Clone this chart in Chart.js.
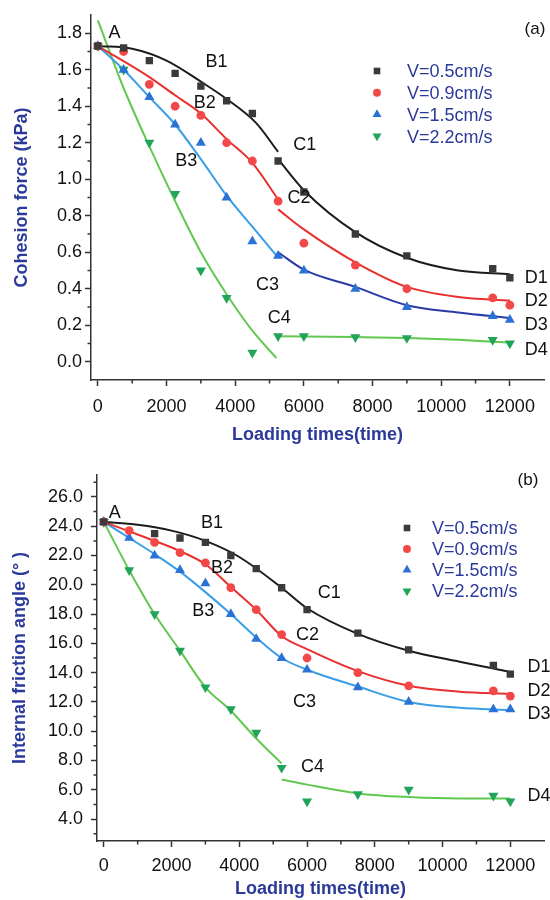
<!DOCTYPE html>
<html>
<head>
<meta charset="utf-8">
<script src="https://cdn.jsdelivr.net/npm/chart.js@4.4.0/dist/chart.umd.min.js"></script>
<style>
  body { margin: 0; background: #fff; }
  canvas { display: block; }
</style>
</head>
<body>
<canvas id="cohesion" width="550" height="450"></canvas>
<canvas id="friction" width="550" height="450"></canvas>
<script>
// measured loading times (x of every marker)
const loadTimes = [0, 750, 1500, 2250, 3000, 3750, 4500, 5250, 6000, 7500, 9000, 11500, 12000];
const speedLabels = ['V=0.5cm/s', 'V=0.9cm/s', 'V=1.5cm/s', 'V=2.2cm/s'];
const timeTicks = [0, 2000, 4000, 6000, 8000, 10000, 12000];
const cohesionTicks = [0, 0.2, 0.4, 0.6, 0.8, 1.0, 1.2, 1.4, 1.6, 1.8];
const frictionTicks = [4, 6, 8, 10, 12, 14, 16, 18, 20, 22, 24, 26];

// (a) cohesion force, kPa
const coh05 = [1.73, 1.72, 1.65, 1.58, 1.51, 1.43, 1.36, 1.10, 0.93, 0.70, 0.58, 0.51, 0.46];
const coh09 = [1.73, 1.70, 1.52, 1.40, 1.35, 1.20, 1.10, 0.88, 0.65, 0.53, 0.40, 0.35, 0.31];
const coh15 = [1.73, 1.60, 1.45, 1.30, 1.20, 0.90, 0.66, 0.58, 0.50, 0.40, 0.30, 0.25, 0.23];
const coh22 = [1.73, 1.60, 1.20, 0.92, 0.50, 0.35, 0.05, 0.14, 0.14, 0.135, 0.13, 0.12, 0.10];

// fitted curves (a), [time, value]
const cohFit05a = [[0, 1.73], [1000, 1.715], [2000, 1.65], [3000, 1.535], [3750, 1.44], [4600, 1.31], [5250, 1.15]];
const cohFit05b = [[5250, 1.11], [6000, 0.94], [7500, 0.71], [9000, 0.57], [10500, 0.50], [12000, 0.48]];
const cohFit09a = [[0, 1.73], [1500, 1.56], [2250, 1.46], [3000, 1.36], [3750, 1.22], [4500, 1.09], [5250, 0.89]];
const cohFit09b = [[5250, 0.835], [6000, 0.725], [7500, 0.545], [9000, 0.41], [10500, 0.355], [12000, 0.335]];
const cohFit15a = [[0, 1.73], [750, 1.60], [1500, 1.45], [2250, 1.30], [3000, 1.11], [3750, 0.91], [4500, 0.74], [5250, 0.57]];
const cohFit15b = [[5250, 0.60], [6000, 0.505], [7500, 0.41], [9000, 0.31], [10500, 0.27], [12000, 0.24]];
const cohFit22a = [[0, 1.87], [750, 1.50], [1500, 1.18], [2250, 0.88], [3000, 0.60], [3750, 0.37], [4500, 0.17], [5200, 0.02]];
const cohFit22b = [[5250, 0.14], [7500, 0.135], [9000, 0.13], [10500, 0.12], [12000, 0.105]];

// (b) internal friction angle, degrees
const fri05 = [24.3, null, 23.5, 23.2, 22.9, 22.0, 21.1, 19.8, 18.3, 16.7, 15.55, 14.5, 13.9];
const fri09 = [24.3, 23.7, 22.9, 22.2, 21.5, 19.8, 18.3, 16.6, 15.0, 14.0, 13.1, 12.75, 12.4];
const fri15 = [24.3, 23.2, 22.0, 21.0, 20.1, 18.0, 16.3, 15.0, 14.2, 13.0, 12.0, 11.5, 11.5];
const fri22 = [24.3, 21.0, 18.0, 15.5, 13.0, 11.5, 9.9, 7.5, 5.2, 5.7, 6.0, 5.6, 5.2];

const friFit05 = [[0, 24.3], [1000, 24.1], [2000, 23.7], [3000, 23.0], [4000, 21.9], [5250, 19.8], [6000, 18.4], [7500, 16.65], [9000, 15.5], [10500, 14.75], [12000, 14.05]];
const friFit09 = [[0, 24.3], [750, 23.65], [1500, 23.0], [2250, 22.3], [3000, 21.4], [3750, 19.85], [4500, 18.3], [5250, 16.5], [6000, 15.6], [7500, 14.1], [9000, 13.1], [10500, 12.7], [12000, 12.55]];
const friFit15 = [[0, 24.3], [750, 23.2], [1500, 22.1], [2250, 20.9], [3000, 19.5], [3750, 18.0], [4500, 16.4], [5250, 15.0], [6000, 14.2], [7500, 13.05], [9000, 12.0], [10500, 11.6], [12000, 11.45]];
const friFit22a = [[0, 24.3], [750, 21.0], [1500, 18.0], [2250, 15.5], [3000, 13.0], [3750, 11.4], [4500, 9.5], [5250, 7.8]];
const friFit22b = [[5250, 6.7], [6000, 6.35], [7500, 5.75], [9000, 5.5], [10500, 5.4], [12000, 5.4]];

// point labels [text, time, value]
const cohNotes = [['A', 486, 1.80], ['B1', 3457, 1.64], ['B2', 3114, 1.42], ['B3', 2571, 1.10],
  ['C1', 6029, 1.19], ['C2', 5857, 0.895], ['C3', 4943, 0.423], ['C4', 5286, 0.242],
  ['D1', 12770, 0.456], ['D2', 12770, 0.33], ['D3', 12770, 0.20], ['D4', 12770, 0.066]];
const friNotes = [['A', 322, 24.9], ['B1', 3197, 24.2], ['B2', 3490, 21.15], ['B3', 2933, 18.2],
  ['C1', 6658, 19.45], ['C2', 6013, 16.6], ['C3', 5925, 12.0], ['C4', 6160, 7.55],
  ['D1', 12850, 14.4], ['D2', 12850, 12.75], ['D3', 12850, 11.2], ['D4', 12850, 5.6]];

Chart.defaults.font.family = 'Arial, "Liberation Sans", sans-serif';

const markColors = ['#3a3a3a', '#f24848', '#2a72d6', '#22a35a'];
const lineColors = ['#1c1c1c', '#e8302e', '#3a9ee6', '#62c850'];
const markStyles = [['rect', 0, 5.2], ['circle', 0, 4.4], ['triangle', 0, 5.8], ['triangle', 180, 5.8]];
const titleBlue = '#2b3a9a';

function pts(list) { return list.map(p => ({ x: p[0], y: p[1] })); }

function markers(values, i) {
  return {
    data: loadTimes.map((t, k) => ({ x: t, y: values[k] })).filter(p => p.y !== null),
    pointStyle: markStyles[i][0], rotation: markStyles[i][1], pointRadius: markStyles[i][2],
    backgroundColor: markColors[i], borderColor: markColors[i], borderWidth: 0,
    showLine: false, order: 0
  };
}

function fit(list, color) {
  return {
    data: pts(list), showLine: true, pointRadius: 0, borderColor: color, borderWidth: 2,
    fill: false, tension: 0.4, cubicInterpolationMode: 'monotone', order: 1
  };
}

function drawMark(ctx, style, rot, r, x, y) {
  ctx.beginPath();
  if (style === 'rect') {
    const h = r * Math.SQRT1_2;
    ctx.rect(x - h, y - h, 2 * h, 2 * h);
  } else if (style === 'circle') {
    ctx.arc(x, y, r, 0, Math.PI * 2);
  } else {
    let a = rot * Math.PI / 180;
    ctx.moveTo(x + Math.sin(a) * r, y - Math.cos(a) * r);
    a += 2 * Math.PI / 3;
    ctx.lineTo(x + Math.sin(a) * r, y - Math.cos(a) * r);
    a += 2 * Math.PI / 3;
    ctx.lineTo(x + Math.sin(a) * r, y - Math.cos(a) * r);
    ctx.closePath();
  }
  ctx.fill();
}

// minor ticks, legend, point labels
const decor = {
  id: 'decor',
  afterDraw(chart, args, o) {
    const ctx = chart.ctx, xs = chart.scales.x, ys = chart.scales.y;
    ctx.save();
    ctx.strokeStyle = '#333';
    ctx.lineWidth = 1.5;
    ctx.beginPath();
    for (let k = 0; k < 6; k++) {
      const p = xs.getPixelForValue(1000 + k * 2000);
      ctx.moveTo(p, xs.top); ctx.lineTo(p, xs.top + 3.5);
    }
    for (let k = 0; k < o.yMinorCount; k++) {
      const p = ys.getPixelForValue(o.yMinor0 + k * o.yMinorStep);
      ctx.moveTo(ys.right, p); ctx.lineTo(ys.right - 3.5, p);
    }
    ctx.stroke();

    speedLabels.forEach((s, i) => {
      const y = o.legY + i * o.legStep;
      ctx.fillStyle = markColors[i];
      drawMark(ctx, markStyles[i][0], markStyles[i][1], markStyles[i][2] * 0.9, o.legX, y);
      ctx.fillStyle = titleBlue;
      ctx.font = '18px Arial, "Liberation Sans", sans-serif';
      ctx.textAlign = 'left';
      ctx.textBaseline = 'middle';
      ctx.fillText(s, o.legTextX, y + 1.5);
    });

    ctx.fillStyle = '#111';
    ctx.font = '18px Arial, "Liberation Sans", sans-serif';
    ctx.textAlign = 'center';
    ctx.textBaseline = 'middle';
    o.notes.forEach(n => {
      ctx.fillText(n[0], xs.getPixelForValue(n[1]), ys.getPixelForValue(n[2]));
    });
    ctx.font = '17px Arial, "Liberation Sans", sans-serif';
    ctx.fillText(o.panel, o.panelX, o.panelY);
    ctx.restore();
  }
};

function scales(o) {
  return {
    x: {
      type: 'linear', min: -200, max: 13000,
      afterBuildTicks: s => { s.ticks = timeTicks.map(v => ({ value: v })); },
      afterFit: s => { s.height = o.xHeight; },
      grid: { drawOnChartArea: false, tickLength: 6, color: '#333', tickWidth: 1.5 },
      border: { color: '#333', width: 1.5 },
      ticks: { color: '#111', font: { size: 18 }, padding: o.xPad, maxRotation: 0, autoSkip: false, callback: v => String(v) },
      title: { display: true, text: 'Loading times(time)', color: titleBlue, font: { size: 18, weight: 'bold' }, padding: { top: 0, bottom: o.xTitlePad } }
    },
    y: {
      type: 'linear', min: o.yMin, max: o.yMax,
      afterBuildTicks: s => { s.ticks = o.yTicks.map(v => ({ value: v })); },
      afterFit: s => { s.width = o.yWidth; },
      grid: { drawOnChartArea: false, tickLength: 6, color: '#333', tickWidth: 1.5 },
      border: { color: '#333', width: 1.5 },
      ticks: { color: '#111', font: { size: 18 }, padding: o.yPad, autoSkip: false, callback: v => v.toFixed(1) },
      title: { display: true, text: o.yTitle, color: titleBlue, font: { size: 18, weight: 'bold' }, padding: { top: o.yTitlePad, bottom: 0 } }
    }
  };
}

new Chart(document.getElementById('cohesion'), {
  type: 'scatter',
  data: {
    datasets: [
      markers(coh05, 0), markers(coh09, 1), markers(coh15, 2), markers(coh22, 3),
      fit(cohFit05a, lineColors[0]), fit(cohFit05b, lineColors[0]),
      fit(cohFit09a, lineColors[1]), fit(cohFit09b, lineColors[1]),
      fit(cohFit15a, lineColors[2]), fit(cohFit15b, '#2b3aa6'),
      fit(cohFit22a, lineColors[3]), fit(cohFit22b, lineColors[3])
    ]
  },
  options: {
    responsive: false, animation: false, events: [],
    layout: { padding: { top: 15, right: 0, bottom: 0, left: 0 } },
    scales: scales({ xHeight: 70, xPad: 10, xTitlePad: 4, yMin: -0.1, yMax: 1.9, yTicks: cohesionTicks,
      yWidth: 91, yPad: 3, yTitle: 'Cohesion force (kPa)', yTitlePad: 11 }),
    plugins: {
      legend: { display: false }, tooltip: { enabled: false },
      decor: { yMinor0: 0.1, yMinorStep: 0.2, yMinorCount: 9, legX: 377, legTextX: 407, legY: 71, legStep: 21.7,
        notes: cohNotes, panel: '(a)', panelX: 535, panelY: 29 }
    }
  },
  plugins: [decor]
});

new Chart(document.getElementById('friction'), {
  type: 'scatter',
  data: {
    datasets: [
      markers(fri05, 0), markers(fri09, 1), markers(fri15, 2), markers(fri22, 3),
      fit(friFit05, lineColors[0]), fit(friFit09, lineColors[1]), fit(friFit15, lineColors[2]),
      fit(friFit22a, lineColors[3]), fit(friFit22b, lineColors[3])
    ]
  },
  options: {
    responsive: false, animation: false, events: [],
    layout: { padding: { top: 25, right: 0, bottom: 0, left: 0 } },
    scales: scales({ xHeight: 59, xPad: 8, xTitlePad: 0, yMin: 2.5, yMax: 27.5, yTicks: frictionTicks,
      yWidth: 97, yPad: 8, yTitle: 'Internal friction angle (° )', yTitlePad: 9 }),
    plugins: {
      legend: { display: false }, tooltip: { enabled: false },
      decor: { yMinor0: 3, yMinorStep: 2, yMinorCount: 13, legX: 407, legTextX: 432, legY: 78, legStep: 21,
        notes: friNotes, panel: '(b)', panelX: 528, panelY: 30 }
    }
  },
  plugins: [decor]
});
</script>
</body>
</html>
